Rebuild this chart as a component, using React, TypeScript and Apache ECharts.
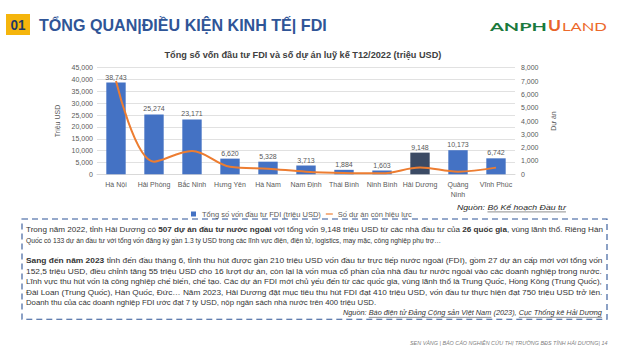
import { useEffect, useRef } from 'react';
import * as echarts from 'echarts';

// ---------- DATA ----------
const categories = ['Hà Nội', 'Hải Phòng', 'Bắc Ninh', 'Hưng Yên', 'Hà Nam', 'Nam Định', 'Thái Bình', 'Ninh Bình', 'Hải Dương', 'Quảng Ninh', 'Vĩnh Phúc'];
const fdiCapital = [38743, 25274, 23171, 6620, 5328, 3713, 1884, 1603, 9148, 10173, 6742];
const activeProjects = [7000, 950, 1750, 570, 420, 200, 100, 75, 507, 200, 500];
const highlighted = 'Hải Dương';
const leftAxisTicks = [0, 5000, 10000, 15000, 20000, 25000, 30000, 35000, 40000, 45000];
const rightAxisTicks = [0, 1000, 2000, 3000, 4000, 5000, 6000, 7000, 8000];
const seriesNames = ['Tổng số vốn đầu tư FDI (triệu USD)', 'Số dự án còn hiệu lực'];
const axisNames = ['Triệu USD', 'Dự án'];
const chartTitle = 'Tổng số vốn đầu tư FDI và số dự án luỹ kế T12/2022 (triệu USD)';
const headerNumber = '01';
const headerTitle = 'TỔNG QUAN|ĐIỀU KIỆN KINH TẾ| FDI';
const logoParts = ['ANPH', 'U', 'LAND'];
const footerText = 'SEN VÀNG | BÁO CÁO NGHIÊN CỨU THỊ TRƯỜNG BĐS TỈNH HẢI DƯƠNG| 14';

type Seg = { t: string; b?: boolean; i?: boolean; u?: boolean };
const chartSource: Seg[] = [{ t: 'Nguồn: ', i: true }, { t: 'Bộ Kế hoạch Đầu tư', i: true, u: true }];
const paragraph: Seg[][] = [
  [{ t: 'Trong năm 2022, tỉnh Hải Dương có ' }, { t: '507 dự án đầu tư nước ngoài', b: true }, { t: ' với tổng vốn 9,148 triệu USD từ các nhà đầu tư của ' }, { t: '26 quốc gia', b: true }, { t: ', vùng lãnh thổ. Riêng Hàn' }],
  [{ t: 'Quốc có 133 dự án đầu tư với tổng vốn đăng ký gần 1.3 tỷ USD trong các lĩnh vực điện, điện tử, logistics, may mặc, công nghiệp phụ trợ…' }],
  [{ t: 'Sang đến năm 2023', b: true }, { t: ' tỉnh đến đầu tháng 6, tỉnh thu hút được gần 210 triệu USD vốn đầu tư trực tiếp nước ngoài (FDI), gồm 27 dự án cấp mới với tổng vốn' }],
  [{ t: '152,5 triệu USD, điều chỉnh tăng 55 triệu USD cho 16 lượt dự án, còn lại là vốn mua cổ phần của nhà đầu tư nước ngoài vào các doanh nghiệp trong nước.' }],
  [{ t: 'Lĩnh vực thu hút vốn là công nghiệp chế biến, chế tạo. Các dự án FDI mới chủ yếu đến từ các quốc gia, vùng lãnh thổ là Trung Quốc, Hồng Kông (Trung Quốc),' }],
  [{ t: 'Đài Loan (Trung Quốc), Hàn Quốc, Đức… Năm 2023, Hải Dương đặt mục tiêu thu hút FDI đạt 410 triệu USD, vốn đầu tư thực hiện đạt 750 triệu USD trở lên.' }],
  [{ t: 'Doanh thu của các doanh nghiệp FDI ước đạt 7 tỷ USD, nộp ngân sách nhà nước trên 400 triệu USD.' }],
];
const paragraphSource: Seg[] = [{ t: 'Nguồn: ', i: true }, { t: 'Báo điện tử Đảng Cộng sản Việt Nam', i: true, u: true }, { t: ' (2023), ', i: true }, { t: 'Cục Thống kê Hải Dương', i: true, u: true }];

// ---------- LAYOUT ----------
const FONT = '"Liberation Sans", Arial, sans-serif';
const paraLayout = [
  { y: 229.5, w: 577 }, { y: 240, w: 416 }, { y: 261, w: 577 }, { y: 271.5, w: 577 },
  { y: 282, w: 577 }, { y: 292.5, w: 577 }, { y: 303, w: 351 },
];
const fmt = (v: number) => v.toLocaleString('en-US');

export default function App() {
  const ref = useRef<HTMLDivElement>(null);
  useEffect(() => {
    if (!ref.current) return;
    const ctx = document.createElement('canvas').getContext('2d')!;
    const measure = (t: string, size: number, weight: string, style: string, family: string) => {
      ctx.font = `${style} ${weight} ${size}px ${family}`;
      return ctx.measureText(t).width;
    };
    const textLine = (segs: Seg[], o: { x: number; y: number; size: number; width: number; align?: 'left' | 'right' | 'center'; fill: string; family?: string; weight?: string }) => {
      const family = o.family || FONT;
      let cx = 0;
      const children: any[] = [];
      segs.forEach((s) => {
        const weight = s.b ? 'bold' : (o.weight || 'normal');
        const style = s.i ? 'italic' : 'normal';
        const w = measure(s.t, o.size, weight, style, family);
        children.push({
          type: 'text', x: cx, y: 0, silent: true,
          style: { text: s.t, fontSize: o.size, fontFamily: family, fontWeight: weight, fontStyle: style, fill: o.fill, align: 'left', verticalAlign: 'middle' },
        });
        if (s.u) {
          children.push({ type: 'line', silent: true, shape: { x1: cx, y1: o.size * 0.55, x2: cx + w, y2: o.size * 0.55 }, style: { stroke: o.fill, lineWidth: 0.5 } });
        }
        cx += w;
      });
      const sx = o.width / cx;
      const gx = o.align === 'right' ? o.x - o.width : o.align === 'center' ? o.x - o.width / 2 : o.x;
      return { type: 'group', x: gx, y: o.y, scaleX: sx, children };
    };

    const graphics: any[] = [
      { type: 'rect', shape: { x: 6, y: 14, width: 24, height: 21 }, style: { fill: '#f5b50c' } },
      textLine([{ t: headerNumber, b: true }], { x: 18, y: 25, size: 14, width: 15, align: 'center', fill: '#1f3864' }),
      textLine([{ t: headerTitle, b: true }], { x: 39, y: 25, size: 16, width: 288, fill: '#2f5597' }),
      textLine([{ t: logoParts[0] }], { x: 490, y: 27, size: 11, width: 57, fill: '#1b7a3d', family: 'Lato', weight: 'bold' }),
      textLine([{ t: logoParts[1] }], { x: 548, y: 25, size: 15, width: 13, fill: '#e8632b', family: 'Lato', weight: 'bold' }),
      textLine([{ t: logoParts[2] }], { x: 562, y: 27, size: 11, width: 45, fill: '#ec6a2c', family: 'Lato', weight: 'normal' }),
      textLine([{ t: chartTitle, b: true }], { x: 303, y: 55, size: 9, width: 277, align: 'center', fill: '#404040' }),
      textLine(chartSource, { x: 457, y: 207.5, size: 8, width: 109, fill: '#262626' }),
      { type: 'rect', shape: { x: 22, y: 219, width: 585, height: 100.3 }, style: { fill: 'none', stroke: '#2f5597', lineWidth: 1.1, lineDash: [6, 4] } },
      ...paragraph.map((segs, i) => textLine(segs, { x: 26, y: paraLayout[i].y, size: 7, width: paraLayout[i].w, fill: '#333333' })),
      textLine(paragraphSource, { x: 602, y: 313.5, size: 7, width: 259, align: 'right', fill: '#333333' }),
      textLine([{ t: footerText, i: true }], { x: 410, y: 343.3, size: 5, width: 198, fill: '#7f7f7f' }),
    ];

    const chart = echarts.init(ref.current, null, { renderer: 'svg' });
    chart.setOption({
      animation: false,
      backgroundColor: '#ffffff',
      textStyle: { fontFamily: FONT },
      grid: { left: 97, right: 104, top: 67.7, bottom: 182.7 },
      legend: {
        left: 186, top: 205, itemWidth: 7, itemHeight: 5, itemGap: 5,
        textStyle: { fontSize: 7.5, color: '#595959', fontFamily: FONT },
        data: [
          { name: seriesNames[0], icon: 'path://M0,0H10V10H0Z' },
          { name: seriesNames[1], icon: 'path://M0,0H12V2H0Z' },
        ],
      },
      xAxis: {
        type: 'category', data: categories,
        axisTick: { show: false },
        axisLine: { lineStyle: { color: '#d9d9d9' } },
        axisLabel: {
          interval: 0, fontSize: 7, color: '#595959', margin: 5, lineHeight: 10,
          formatter: (v: string) => (v.length > 9 ? v.replace(' ', '\n') : v),
        },
      },
      yAxis: [
        {
          type: 'value', min: leftAxisTicks[0], max: leftAxisTicks[leftAxisTicks.length - 1], interval: leftAxisTicks[1] - leftAxisTicks[0],
          name: axisNames[0], nameLocation: 'middle', nameGap: 35,
          nameTextStyle: { fontSize: 7, color: '#595959' },
          axisLine: { show: false }, axisTick: { show: false },
          axisLabel: { fontSize: 7, color: '#595959', margin: 4, formatter: (v: number) => fmt(v) },
          splitLine: { lineStyle: { color: '#d9d9d9', width: 0.8 } },
        },
        {
          type: 'value', min: rightAxisTicks[0], max: rightAxisTicks[rightAxisTicks.length - 1], interval: rightAxisTicks[1] - rightAxisTicks[0],
          position: 'right',
          name: axisNames[1], nameLocation: 'middle', nameGap: 35,
          nameTextStyle: { fontSize: 7, color: '#595959' },
          axisLine: { show: false }, axisTick: { show: false },
          axisLabel: { fontSize: 7, color: '#595959', margin: 6, formatter: (v: number) => fmt(v) },
          splitLine: { show: false },
        },
      ],
      series: [
        {
          name: seriesNames[0], type: 'bar', barWidth: '51%',
          itemStyle: { color: '#4472c4' },
          data: fdiCapital.map((v, i) => (categories[i] === highlighted ? { value: v, itemStyle: { color: '#3b4a64' } } : v)),
          label: { show: true, position: 'top', distance: 2, fontSize: 7, color: '#595959', formatter: (p: any) => fmt(p.value) },
        },
        {
          name: seriesNames[1], type: 'line', yAxisIndex: 1, smooth: 0.35, showSymbol: false,
          lineStyle: { color: '#ed7d31', width: 2 }, itemStyle: { color: '#ed7d31' },
          data: activeProjects,
        },
      ],
      graphic: graphics,
    });
    return () => chart.dispose();
  }, []);
  return <div ref={ref} style={{ position: 'fixed', left: 0, top: 0, width: 619, height: 357, background: '#fff' }} />;
}
